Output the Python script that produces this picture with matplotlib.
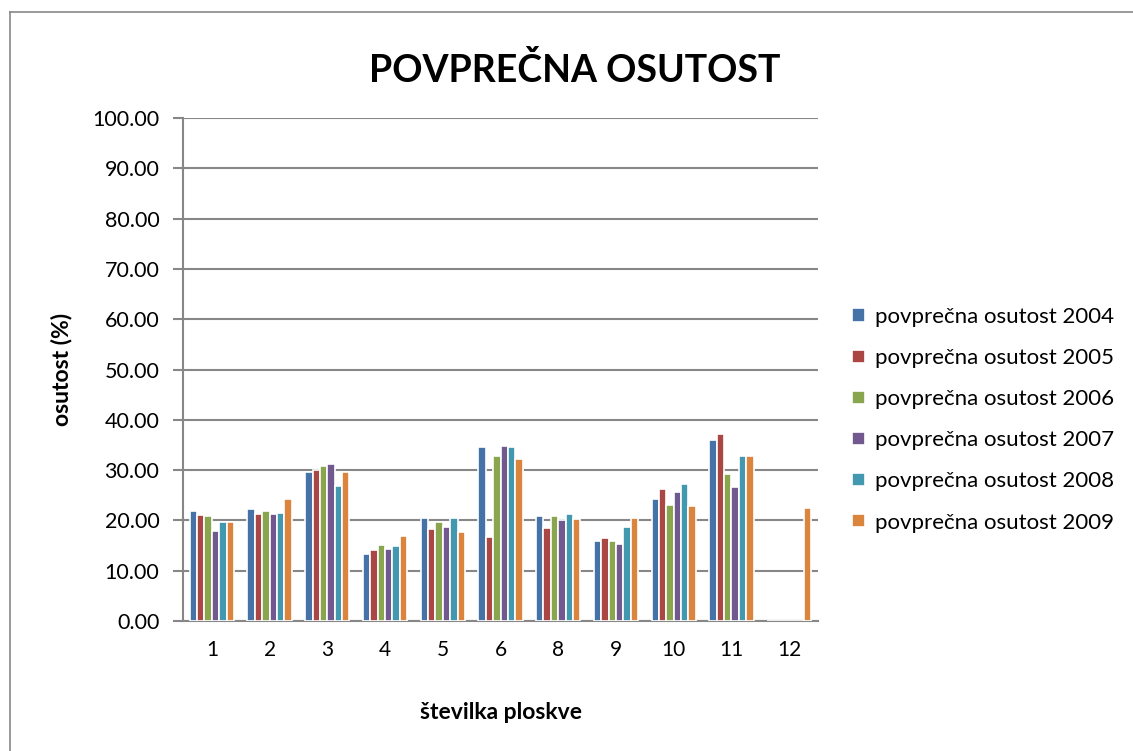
import numpy as np
import matplotlib.pyplot as plt
from matplotlib.lines import Line2D

plt.rcParams['font.family'] = ['Lato', 'DejaVu Sans']

# data
plots = ['1', '2', '3', '4', '5', '6', '8', '9', '10', '11', '12']
years = ['2004', '2005', '2006', '2007', '2008', '2009']
v2004 = [21.9, 22.2, 29.6, 13.3, 20.5, 34.5, 20.9, 15.9, 24.3, 36.0, 0]
v2005 = [21.1, 21.3, 30.1, 14.1, 18.3, 16.7, 18.5, 16.5, 26.2, 37.2, 0]
v2006 = [20.9, 21.9, 30.8, 15.1, 19.7, 32.8, 20.9, 15.9, 23.1, 29.2, 0]
v2007 = [17.9, 21.3, 31.2, 14.3, 18.7, 34.8, 20.1, 15.3, 25.6, 26.7, 0]
v2008 = [19.7, 21.5, 26.9, 14.9, 20.5, 34.5, 21.3, 18.7, 27.2, 32.8, 0]
v2009 = [19.7, 24.3, 29.6, 16.9, 17.7, 32.2, 20.3, 20.5, 22.9, 32.8, 22.5]
colors = ['#4572a7', '#aa4643', '#89a54e', '#71588f', '#4198af', '#db843d']

series = [v2004, v2005, v2006, v2007, v2008, v2009]

fig = plt.figure(figsize=(11.33, 7.51), dpi=100)
ax = fig.add_axes([183/1133, 130/751, 635/1133, 503/751])

x = np.arange(len(plots))
w = 0.128
for i, vals in enumerate(series):
    ax.bar(x + (i - 2.5) * w, vals, w, color=colors[i], edgecolor='white',
           linewidth=1.2, label='povprečna osutost ' + years[i], zorder=3)

ax.set_xlim(-0.5, len(plots) - 0.5)
ax.set_ylim(0, 100)
ax.set_yticks(np.arange(0, 101, 10))
ax.set_yticklabels(['%.2f' % t for t in np.arange(0, 101, 10)], fontsize=15.5)
ax.set_xticks(x)
ax.set_xticklabels(plots, fontsize=15)
ax.tick_params(axis='x', length=0, pad=14)
ax.tick_params(axis='y', length=7, width=1.5, color='#878787', pad=10)
ax.yaxis.grid(True, color='#878787', linewidth=1.5, zorder=0)
for s in ['top', 'right']:
    ax.spines[s].set_visible(False)
for s in ['left', 'bottom']:
    ax.spines[s].set_color('#878787')
    ax.spines[s].set_linewidth(1.5)

ax.set_ylabel('osutost (%)', fontsize=16.5, fontweight='bold', labelpad=14)
ax.set_xlabel('številka ploskve', fontsize=16.5, fontweight='bold', labelpad=30)
fig.text(575/1133, 1 - 70/751, 'POVPREČNA OSUTOST', fontsize=27, fontweight='bold',
         ha='center', va='center')

ax.legend(loc='center left', bbox_to_anchor=(1.04, 0.40), frameon=False,
          fontsize=16, handlelength=0.55, handleheight=0.55, handletextpad=0.45,
          labelspacing=0.95, borderaxespad=0)

# chart border
fig.add_artist(Line2D([10/1133, 10/1133], [0, 1 - 12/751], transform=fig.transFigure,
                      color='#878787', linewidth=1.2))
fig.add_artist(Line2D([10/1133, 1], [1 - 12/751, 1 - 12/751], transform=fig.transFigure,
                      color='#878787', linewidth=1.2))

fig.savefig('out.png', dpi=100)
